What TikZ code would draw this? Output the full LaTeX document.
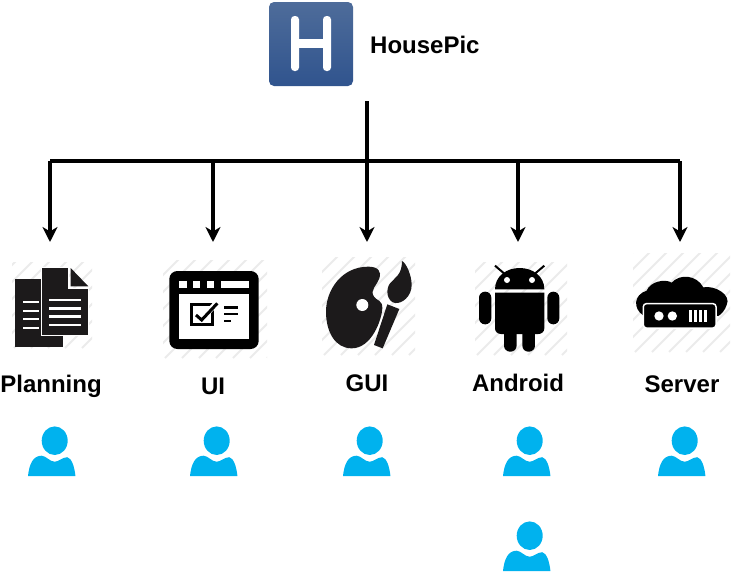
\documentclass[tikz,border=0pt]{standalone}
\usepackage{fontspec}
\setmainfont{Liberation Sans}
\usetikzlibrary{arrows.meta}
\definecolor{personblue}{RGB}{0,178,238}
\definecolor{icondark}{RGB}{28,26,27}
\definecolor{logotop}{RGB}{78,108,154}
\definecolor{logobottom}{RGB}{48,84,142}
\tikzset{
  branch/.style={line width=3.2pt},
  branchtip/.style={line width=3.2pt, -{Stealth[length=15pt,width=15pt,inset=4.5pt]}},
  teamlabel/.style={font=\fontsize{24}{28}\selectfont\bfseries, text=black, inner sep=0pt},
  zoomed/.style={shift={(#1)}, scale=1/3},
  person/.pic={
    \fill[personblue] (0,0) ellipse [x radius=13, y radius=14.3];
    \fill[personblue] (-26.7,35.3) .. controls (-25.5,24) and (-22,15) .. (-13,15)
      .. controls (-8,15.5) and (-5,21) .. (0,21)
      .. controls (4,21) and (8,16.5) .. (12.5,16.5)
      .. controls (17,17) and (20,27) .. (20.7,35.3) -- cycle;
  }
}
\newcommand{\hatchbox}[4]{
  \begin{scope}
    \clip (#1,#2) rectangle (#3,#4);
    \foreach \s in {-100,-83,...,110}
      \draw[gray!16, line width=2pt] ({#1+\s},#4) -- ({#1+\s+100},{#4-100});
  \end{scope}
}
\begin{document}
\begin{tikzpicture}[x=1pt, y=-1pt]
  \useasboundingbox (0,0) rectangle (732,576);

  % logo
  \node (logo) [rounded corners=5pt, top color=logotop, bottom color=logobottom,
                minimum width=84pt, minimum height=84pt, inner sep=0pt] at (311,44) {};
  \fill[white, rounded corners=3.5pt] (291,16) rectangle (299,71);
  \fill[white, rounded corners=3.5pt] (323,16) rectangle (331,71);
  \fill[white] (298,39) rectangle (324,48);
  \node (housepic) [teamlabel, anchor=west] at (370,45) {HousePic};

  % connector ends
  \coordinate (stem) at (367,101);
  \coordinate (planningjoin) at (50,161);
  \coordinate (uijoin) at (213,161);
  \coordinate (guijoin) at (367,161);
  \coordinate (androidjoin) at (518,161);
  \coordinate (serverjoin) at (680,161);
  \coordinate (planningtop) at (50,242);
  \coordinate (uitop) at (213,242);
  \coordinate (guitop) at (367,242);
  \coordinate (androidtop) at (518,242);
  \coordinate (servertop) at (680,242);

  \draw[branch] (planningjoin) -- (serverjoin);
  \draw[branchtip] (stem) -- (guitop);
  \draw[branchtip] (planningjoin) -- (planningtop);
  \draw[branchtip] (uijoin) -- (uitop);
  \draw[branchtip] (androidjoin) -- (androidtop);
  \draw[branchtip] (serverjoin) -- (servertop);

  % planning icon
  \hatchbox{12}{262}{92}{348}
  \begin{scope}[zoomed={0,240}]
    \fill[icondark] (45,116) rectangle (188,320);
    \foreach \y in {187,213,238,264}
      \fill[white] (68,\y-3) rectangle (118,\y+3);
    \fill[icondark, draw=white, line width=1.5pt] (124,82) -- (205,82) -- (205,145) -- (266,145)
      -- (266,286) -- (124,286) -- cycle;
    \fill[icondark] (212,84) -- (265,139) -- (212,139) -- cycle;
    \foreach \y in {180,205,229,255}
      \fill[white] (148,\y-4) rectangle (243,\y+4);
  \end{scope}

  % ui icon
  \hatchbox{163}{260}{267}{358}
  \begin{scope}[zoomed={0,240}]
    \fill[black, rounded corners=8pt] (508,93) rectangle (776,327);
    \fill[white] (538,162) rectangle (746,297);
    \fill[white] (538,122) rectangle (560,143);
    \fill[white] (580,122) rectangle (601,143);
    \fill[white] (621,122) rectangle (642,143);
    \fill[white] (663,122) rectangle (746,143);
    \draw[black, line width=3pt] (574,194) rectangle (637,254);
    \draw[white, line width=5.5pt] (588,222) -- (605,238) -- (650,188);
    \draw[black, line width=3pt] (588,225) -- (605,240) -- (652,190);
    \draw[black, line width=2.5pt] (673,203) -- (715,203);
    \draw[black, line width=2.5pt] (673,222) -- (715,222);
    \draw[black, line width=2.5pt] (673,243) -- (693,243);
  \end{scope}

  % gui icon
  \hatchbox{322}{257}{415}{355}
  \begin{scope}[zoomed={300,240}]
    \fill[icondark] (78,215) .. controls (78,150) and (125,80) .. (205,80)
      .. controls (235,80) and (245,95) .. (238,115)
      .. controls (232,135) and (208,150) .. (222,170)
      .. controls (230,182) and (248,180) .. (247,205)
      .. controls (245,240) and (215,325) .. (155,325)
      .. controls (105,325) and (78,275) .. (78,215) -- cycle;
    \fill[white] (187,195) circle (18);
    \fill[icondark] (262,193) -- (298,207) -- (248,325) -- (222,315) -- cycle;
    \fill[icondark] (306,63) .. controls (318,68) and (335,105) .. (335,135)
      .. controls (335,170) and (305,192) .. (285,189)
      .. controls (262,185) and (255,150) .. (270,130)
      .. controls (285,112) and (306,105) .. (306,63) -- cycle;
  \end{scope}

  % android icon
  \hatchbox{475}{262}{567}{355}
  \begin{scope}[zoomed={300,240}]
    \draw[black, line width=2pt] (585,77) -- (612,100);
    \draw[black, line width=2pt] (733,77) -- (706,100);
    \fill[black] (585,148) .. controls (585,108) and (620,84) .. (659,84)
      .. controls (698,84) and (733,108) .. (733,148) -- cycle;
    \fill[white] (621,120) circle (9);
    \fill[white] (696,120) circle (9);
    \fill[black] (585,158) -- (733,158) -- (733,265) .. controls (733,275) and (725,282) .. (715,282)
      -- (603,282) .. controls (593,282) and (585,275) .. (585,265) -- cycle;
    \fill[black, rounded corners=6pt] (537,155) rectangle (574,253);
    \fill[black, rounded corners=6pt] (742,155) rectangle (778,253);
    \fill[black, rounded corners=6pt] (612,260) rectangle (650,335);
    \fill[black, rounded corners=6pt] (667,260) rectangle (705,335);
  \end{scope}

  % server icon
  \hatchbox{633}{253}{730}{352}
  \begin{scope}[zoomed={600,240}]
    \fill[black] (128,225) .. controls (100,205) and (100,165) .. (140,152)
      .. controls (150,125) and (195,115) .. (215,128)
      .. controls (240,100) and (290,105) .. (310,142)
      .. controls (345,135) and (395,165) .. (380,195)
      .. controls (375,210) and (365,222) .. (355,228) -- cycle;
    \fill[black, draw=white, line width=1.5pt, rounded corners=3pt] (130,191) rectangle (348,264);
    \fill[white] (177,228) circle (14);
    \fill[white] (217,228) circle (14);
    \foreach \x in {268,283,298,313}
      \fill[white] (\x,210) rectangle (\x+9,245);
  \end{scope}

  % labels
  \node (planning) [teamlabel] at (51,386) {Planning};
  \node (ui) [teamlabel] at (213,386) {UI};
  \node (gui) [teamlabel] at (367,383) {GUI};
  \node (android) [teamlabel] at (518,383) {Android};
  \node (server) [teamlabel] at (682,384) {Server};

  % people
  \pic at (54.7,440.7) {person};
  \pic at (216.7,440.7) {person};
  \pic at (369.7,440.7) {person};
  \pic at (529.7,440.7) {person};
  \pic at (684.7,440.7) {person};
  \pic at (529.7,535.7) {person};
\end{tikzpicture}
\end{document}
